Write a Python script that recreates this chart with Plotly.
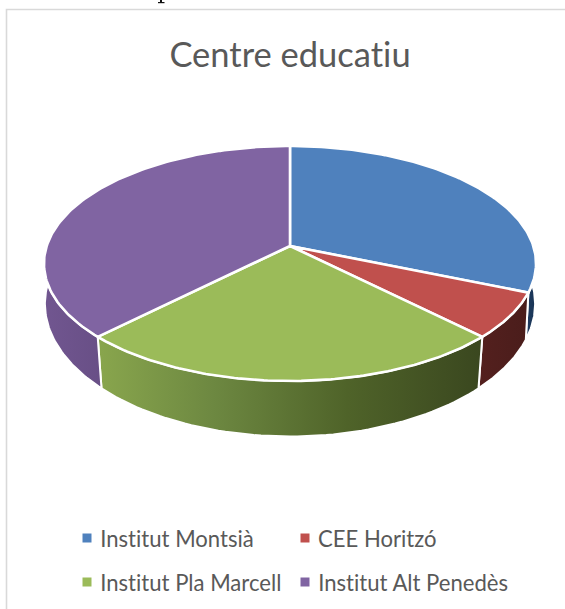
import math
import plotly.graph_objects as go

categories = ["Institut Montsià", "CEE Horitzó", "Institut Pla Marcell", "Institut Alt Penedès"]
values = [5, 1, 4, 6]
top_colors = ["#4F81BD", "#C0504D", "#9BBB59", "#8064A2"]
side_scales = [
    [[0, "#1F3D63"], [1, "#1A3454"]],
    [[0, "#54201E"], [1, "#4A1D1B"]],
    [[0, "#89A64D"], [0.3, "#6D8841"], [0.65, "#4F6329"], [1, "#3A471F"]],
    [[0, "#715690"], [1, "#684F86"]],
]
title = "Centre educatiu"
legend_text_x = [100, 318, 100, 318]
legend_swatch_x = [87, 305, 87, 305]
legend_y = [538, 538, 582, 582]

# projection of the pie plane into the picture (pixels)
CX, CY, K, H, P = 290.0, 246.0, 243.3, 114.9, 0.149


def top(theta):
    u, v = math.sin(theta), -math.cos(theta)
    w = 1 - P * v
    return CX + K * u / w, CY + H * v / w


def bottom(theta):
    x, y = top(theta)
    v = -math.cos(theta)
    return CX + (x - CX) * (1 - 0.028 * v), y + 42 + 13.5 * v


fig = go.Figure()
total = sum(values)
angles = [0]
for val in values:
    angles.append(angles[-1] + val / total * 2 * math.pi)

# Side walls (only the part facing the viewer)
vis0, vis1 = math.radians(81), math.radians(279)
for i in range(len(values)):
    a0, a1 = max(angles[i], vis0), min(angles[i + 1], vis1)
    if a1 <= a0:
        continue
    n = 60
    th = [a0 + (a1 - a0) * j / n for j in range(n + 1)]
    t = [top(a) for a in th]
    b = [bottom(a) for a in reversed(th)]
    pts = t + b + [t[0]]
    fig.add_trace(go.Scatter(
        x=[p[0] for p in pts], y=[p[1] for p in pts], mode="lines", fill="toself",
        line=dict(color="white", width=2),
        fillgradient=dict(type="horizontal", colorscale=side_scales[i]),
        hoverinfo="skip", showlegend=False))

# Top face
for i in range(len(values)):
    n = 120
    th = [angles[i] + (angles[i + 1] - angles[i]) * j / n for j in range(n + 1)]
    pts = [(CX, CY)] + [top(a) for a in th] + [(CX, CY)]
    fig.add_trace(go.Scatter(
        x=[p[0] for p in pts], y=[p[1] for p in pts], mode="lines", fill="toself",
        fillcolor=top_colors[i], line=dict(color="white", width=2.6),
        hoverinfo="text", text=f"{categories[i]}: {values[i]}", showlegend=False))

# Legend swatches and labels
fig.add_trace(go.Scatter(
    x=legend_swatch_x, y=legend_y, mode="markers", hoverinfo="skip", showlegend=False,
    marker=dict(symbol="square", size=9, color=top_colors)))
annotations = [
    dict(x=tx, y=ty, xref="x", yref="y", text=name, showarrow=False, xanchor="left", yanchor="middle",
         xshift=-2, font=dict(family="Lato", size=22.1, color="#595959"))
    for name, tx, ty in zip(categories, legend_text_x, legend_y)
]

fig.update_layout(
    width=565, height=609, margin=dict(l=0, r=0, t=0, b=0),
    paper_bgcolor="white", plot_bgcolor="white",
    xaxis=dict(range=[0, 565], visible=False, fixedrange=True),
    yaxis=dict(range=[609, 0], visible=False, fixedrange=True),
    title=dict(text=title, x=290 / 565, xanchor="center", y=1 - 55 / 609, yanchor="middle",
               font=dict(family="Lato", size=34.5, color="#595959")),
    annotations=annotations,
    shapes=[
        dict(type="rect", xref="x", yref="y", x0=6.5, y0=9.5, x1=575, y1=620,
             line=dict(color="#D9D9D9", width=1.6), layer="below"),
        # sliver of dark ink left at the top edge of the page
        dict(type="rect", xref="x", yref="y", x0=160, y0=0, x1=162, y1=3,
             fillcolor="#111111", line=dict(width=0), layer="below"),
        dict(type="rect", xref="x", yref="y", x0=158, y0=2, x1=164.5, y1=3.2,
             fillcolor="#111111", line=dict(width=0), layer="below"),
    ],
)

fig.write_html(
    "out.html",
    config={"displayModeBar": False},
    post_script="document.body.style.margin='0';"
                "var s=document.createElement('style');"
                "s.textContent='text{font-variant-ligatures:none !important}';"
                "document.head.appendChild(s);",
)
